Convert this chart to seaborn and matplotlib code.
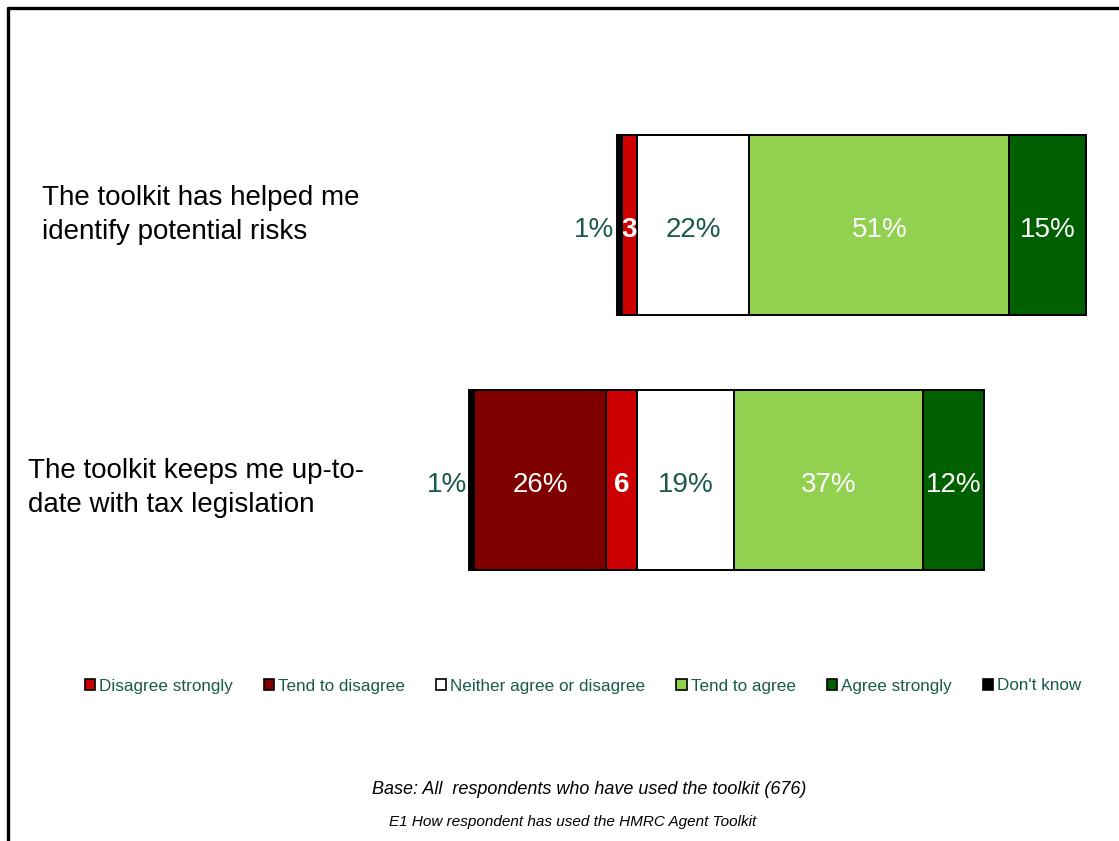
import numpy as np
import pandas as pd
import matplotlib
matplotlib.use("Agg")
import matplotlib.pyplot as plt
import matplotlib.transforms as mtransforms
from matplotlib.patches import Patch
from matplotlib.lines import Line2D
import seaborn as sns

# Survey statements and response shares (%)
questions = ["The toolkit has helped me\nidentify potential risks",
             "The toolkit keeps me up-to-\ndate with tax legislation"]
dont_know = [1, 1]
tend_to_disagree = [0, 26]
disagree_strongly = [3, 6]
neither = [22, 19]
tend_to_agree = [51, 37]
agree_strongly = [15, 12]

legend_labels = ["Disagree strongly", "Tend to disagree", "Neither agree or disagree",
                 "Tend to agree", "Agree strongly", "Don't know"]
base_note = "Base: All  respondents who have used the toolkit (676)"
source_note = "E1 How respondent has used the HMRC Agent Toolkit"

C_RED = "#CC0000"
C_DRED = "#800000"
C_WHITE = "#FFFFFF"
C_LGREEN = "#92D050"
C_DGREEN = "#006000"
C_BLACK = "#000000"
C_TEXT = "#1A5A4A"

sns.set_theme(style="white")
plt.rcParams["font.family"] = ["Liberation Sans", "DejaVu Sans"]

W, H = 1119, 841
fig = plt.figure(figsize=(W / 100, H / 100), dpi=100)
ax = fig.add_axes([0, 0, 1, 1])

df = pd.DataFrame({
    "q": questions,
    "dk": dont_know, "td": tend_to_disagree, "ds": disagree_strongly,
    "n": neither, "ta": tend_to_agree, "as": agree_strongly,
})
# cumulative ends of each segment, measured from the disagree/neutral boundary
df["end_as"] = df["n"] + df["ta"] + df["as"]
df["end_ta"] = df["n"] + df["ta"]
df["end_n"] = df["n"]
df["end_dk"] = -(df["ds"] + df["td"] + df["dk"])
df["end_td"] = -(df["ds"] + df["td"])
df["end_ds"] = -df["ds"]

bar_w = 0.706
layers = [("end_as", C_DGREEN), ("end_ta", C_LGREEN), ("end_n", C_WHITE),
          ("end_dk", C_BLACK), ("end_td", C_DRED), ("end_ds", C_RED)]
for col, colr in layers:
    sns.barplot(data=df, y="q", x=col, order=questions, orient="h", color=colr,
                saturation=1, width=bar_w, edgecolor="black", linewidth=1.4,
                errorbar=None, ax=ax)

# pixel-aligned scales: 5.1 px per percentage point, 255 px between rows
px_per = 5.1
zero_px = 637
ax.set_xlim(-zero_px / px_per, (W - zero_px) / px_per)
ax.set_ylim((H - 225) / 255, -225 / 255)
ax.set_axis_off()

fs = 20
dy = 0.018  # value labels sit slightly below the bar centre
for i, row in df.iterrows():
    segs = [
        (-(row.ds + row.td / 2), row.td, f"{row.td}%", "white", "normal"),
        (-row.ds / 2, row.ds, f"{row.ds}", "white", "bold"),
        (row.n / 2, row.n, f"{row.n}%", C_TEXT, "normal"),
        (row.n + row.ta / 2, row.ta, f"{row.ta}%", "white", "normal"),
        (row.n + row.ta + row["as"] / 2, row["as"], f"{row['as']}%", "white", "normal"),
    ]
    for xc, v, lab, colr, wt in segs:
        if v > 0:
            ax.text(xc, i + dy, lab, ha="center", va="center", color=colr,
                    fontsize=fs, fontweight=wt)
    ax.text(row.end_dk - 0.4, i + dy, f"{row.dk}%", ha="right", va="center",
            color=C_TEXT, fontsize=fs)

# statement labels at the left
blend = mtransforms.blended_transform_factory(fig.transFigure, ax.transData)
label_x = [42 / W, 28 / W]
label_dy = [-0.04, 0.032]
for i, q in enumerate(questions):
    ax.text(label_x[i], i + label_dy[i], q, transform=blend,
            ha="left", va="center", fontsize=fs, color="black", linespacing=1.42)

handles = [Patch(facecolor=c, edgecolor="black", linewidth=1.2)
           for c in [C_RED, C_DRED, C_WHITE, C_LGREEN, C_DGREEN, C_BLACK]]
fig.legend(handles, legend_labels, loc="center", bbox_to_anchor=(0.521, 1 - 686 / H),
           ncol=6, frameon=False, fontsize=12.3, handlelength=0.6, handleheight=0.6,
           handletextpad=0.25, columnspacing=1.8, labelcolor=C_TEXT, borderaxespad=0)

fig.text(589 / W, 1 - 790 / H, base_note, ha="center", va="center",
         fontsize=13, style="italic", color="black")
fig.text(573 / W, 1 - 822 / H, source_note, ha="center", va="center",
         fontsize=11, style="italic", color="black")

# outer frame (top and left edges)
fig.add_artist(Line2D([8 / W, 1.0], [1 - 8 / H, 1 - 8 / H], transform=fig.transFigure,
                      color="black", linewidth=2.4))
fig.add_artist(Line2D([8 / W, 8 / W], [1 - 8 / H, 0], transform=fig.transFigure,
                      color="black", linewidth=2.4))

fig.savefig("out.png", dpi=100, facecolor="white")
